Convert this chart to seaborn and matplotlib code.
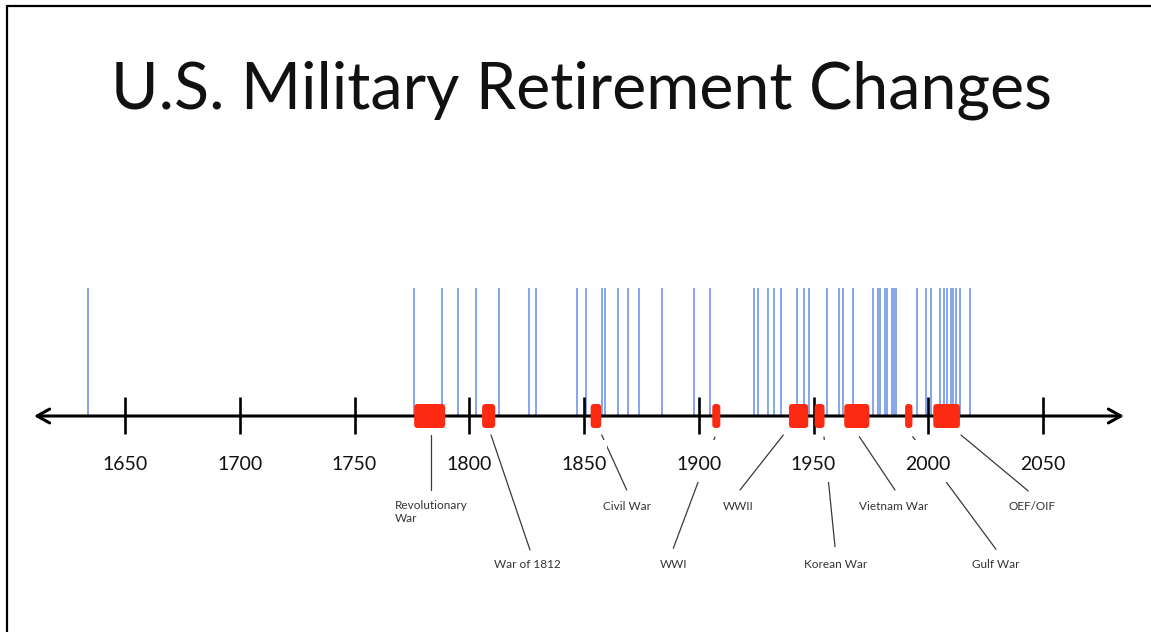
import matplotlib
matplotlib.use("Agg")
import matplotlib.pyplot as plt
from matplotlib.patches import FancyBboxPatch, Rectangle
from matplotlib.lines import Line2D
import seaborn as sns

# years with a change to military retirement (blue lines)
change_years = [1634, 1776, 1788, 1795, 1803, 1813, 1826, 1829, 1847, 1851,
                1858, 1859, 1865, 1869, 1874, 1884, 1898, 1905, 1924, 1926,
                1930, 1933, 1936, 1943, 1946, 1948, 1956, 1961, 1963, 1967,
                1976, 1978, 1979, 1981, 1982, 1984, 1985, 1986, 1995, 1999,
                2001, 2005, 2007, 2008, 2010, 2011, 2012, 2014, 2018]

# wars (red blocks)
war_names = ["Revolutionary\nWar", "War of 1812", "Civil War", "WWI", "WWII",
             "Korean War", "Vietnam War", "Gulf War", "OEF/OIF"]
war_start = [1776.0, 1805.6, 1852.9, 1905.9, 1939.3, 1950.5, 1963.4, 1989.9, 2002.2]
war_end = [1789.5, 1811.3, 1857.5, 1909.4, 1947.7, 1954.8, 1974.3, 1993.1, 2013.8]

tick_years = [1650, 1700, 1750, 1800, 1850, 1900, 1950, 2000, 2050]

title = "U.S. Military Retirement Changes"

# ---- layout (pixels) ----
W, H = 1151, 632
PX_PER_YEAR = 2.295
X_1650 = 125
AXIS_Y = 416

# leader line (x1, y1, x2, y2) and label anchor (x, y) for every war
leader_px = [(430.7, 435, 430.7, 490), (491, 435, 530, 550), (601.7, 435, 626.7, 490),
             (715, 437, 673.3, 548.3), (783.3, 435, 740, 490), (824, 437, 835, 546.7),
             (859.3, 436.7, 895, 490), (912.7, 436.7, 996, 549.3), (961, 435, 1028.3, 491)]
label_px = [(395, 512), (494, 565), (603, 506), (660, 565), (723, 507),
            (804, 564), (859, 506), (972, 565), (1008, 506)]


def px2yr(x):
    return 1650 + (x - X_1650) / PX_PER_YEAR


sns.set_theme(style="white")
plt.rcParams['font.family'] = ['Lato', 'DejaVu Sans']

fig = plt.figure(figsize=(W / 100, H / 100), dpi=100)
fig.patch.set_facecolor("white")

ax = fig.add_axes([0, 0, 1, 1])
ax.set_xlim(px2yr(0), px2yr(W))
ax.set_ylim(H, 0)
ax.axis("off")
ax.patch.set_visible(False)
ax.set_zorder(2)

# blue change lines as a rug in a strip above the axis
ax_rug = fig.add_axes([0, (H - 417) / H, 1, (417 - 288) / H], sharex=ax)
ax_rug.set_zorder(1)
ax_rug.axis("off")
sns.rugplot(x=change_years, height=1, ax=ax_rug, color="#7d9fe9",
            linewidth=1.3, expand_margins=False)
ax_rug.set_xlim(px2yr(0), px2yr(W))

# timeline arrow
ax.annotate("", xy=(px2yr(1124), AXIS_Y), xytext=(px2yr(34), AXIS_Y),
            arrowprops=dict(arrowstyle="<->,head_length=0.45,head_width=0.25",
                            lw=2.2, color="black", shrinkA=0, shrinkB=0,
                            mutation_scale=20), zorder=2)
ax.vlines(tick_years, 397, 434, color="black", lw=1.9, zorder=2)

# war blocks
for s, e in zip(war_start, war_end):
    ax.add_patch(FancyBboxPatch((s, 404), e - s, 24,
                                boxstyle="round,pad=0,rounding_size=1.5",
                                mutation_aspect=PX_PER_YEAR,
                                fc="#fb2a10", ec="none", zorder=3))

# leader lines and labels
for (x1, y1, x2, y2), (lx, ly), name in zip(leader_px, label_px, war_names):
    ax.plot([px2yr(x1), px2yr(x2)], [y1, y2], color="#3a3a3a", lw=0.9, zorder=2)
    ax.text(px2yr(lx), ly, name, ha="left", va="center", fontsize=8.5,
            color="#333333", linespacing=1.15, zorder=5)

# tick labels on white boxes (they cut the leader lines)
for t in tick_years:
    ax.add_patch(Rectangle((t - 23 / PX_PER_YEAR, 440), 46 / PX_PER_YEAR, 42,
                           fc="white", ec="none", zorder=4))
    ax.text(t, 464, str(t), ha="center", va="center", fontsize=14,
            color="#111111", zorder=5)

# title
ax.text(px2yr(581), 108, title, ha="center", va="baseline", fontsize=46.5,
        color="#111111", zorder=5)

# slide frame (top and left edges)
fig.add_artist(Line2D([6.5 / W, 1], [1 - 5.7 / H, 1 - 5.7 / H], color="black",
                      lw=1.6, transform=fig.transFigure))
fig.add_artist(Line2D([6.5 / W, 6.5 / W], [0, 1 - 5.7 / H], color="black",
                      lw=1.6, transform=fig.transFigure))

fig.savefig("out.png", dpi=100)
